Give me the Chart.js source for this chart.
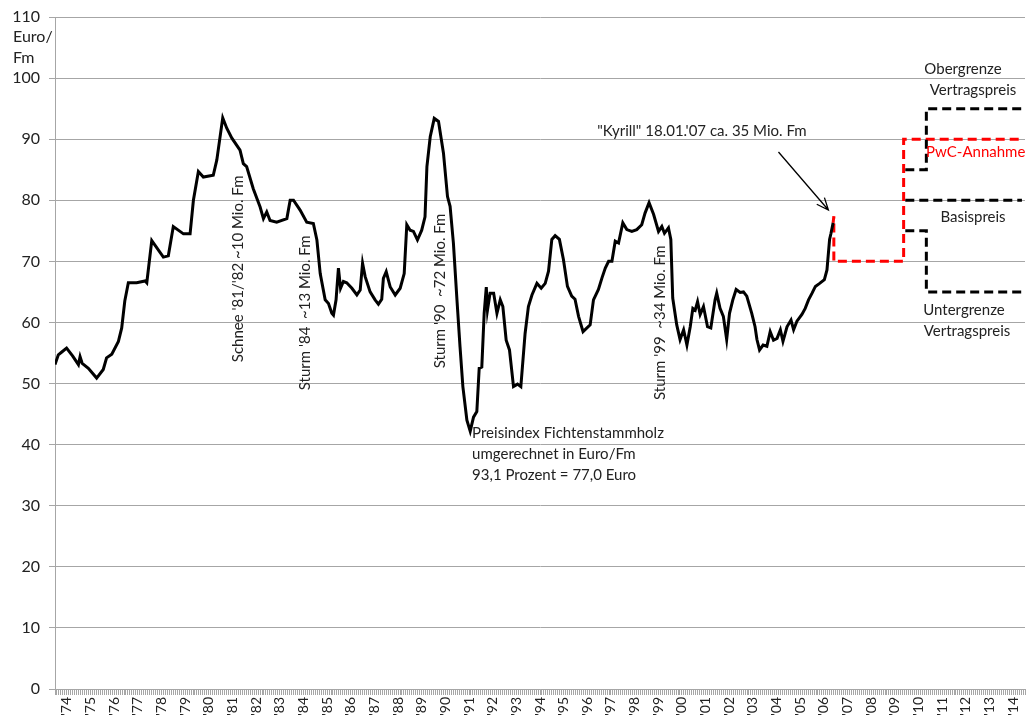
<!DOCTYPE html>
<html>
<head>
<meta charset="utf-8">
<script src="https://cdn.jsdelivr.net/npm/chart.js@4/dist/chart.umd.min.js"></script>
<style>
body { margin: 0; background: #fff; }
#wrap { width: 1032px; height: 722px; }
</style>
</head>
<body>
<div id="wrap"><canvas id="myChart"></canvas></div>
<script>
// year labels on the x axis (one per year, centred in the year)
var yearLabels = ["'74","'75","'76","'77","'78","'79","'80","'81","'82","'83","'84","'85","'86","'87",
  "'88","'89","'90","'91","'92","'93","'94","'95","'96","'97","'98","'99","'00","'01","'02","'03",
  "'04","'05","'06","'07","'08","'09","'10","'11","'12","'13","'14"];

// Preisindex Fichtenstammholz, Euro/Fm
var histYears = [1974.00,1974.14,1974.30,1974.49,1974.75,1974.99,1975.06,1975.15,1975.41,1975.76,
  1976.04,1976.18,1976.40,1976.68,1976.82,1976.95,1977.10,1977.45,1977.81,1977.88,1978.09,1978.58,
  1978.79,1979.00,1979.43,1979.71,1979.85,1980.06,1980.27,1980.69,1980.84,1981.09,1981.26,1981.47,
  1981.82,1981.96,1982.10,1982.38,1982.67,1982.81,1982.95,1983.09,1983.37,1983.80,1983.94,1984.08,
  1984.36,1984.64,1984.92,1985.07,1985.21,1985.42,1985.56,1985.70,1985.77,1985.88,1985.98,1986.07,
  1986.19,1986.33,1986.55,1986.76,1986.90,1987.00,1987.11,1987.32,1987.53,1987.67,1987.81,1987.88,
  1988.00,1988.17,1988.38,1988.59,1988.76,1988.87,1989.01,1989.15,1989.32,1989.50,1989.64,1989.72,
  1989.86,1990.03,1990.21,1990.42,1990.59,1990.70,1990.84,1990.99,1991.12,1991.24,1991.41,1991.55,
  1991.69,1991.83,1991.93,1992.04,1992.14,1992.23,1992.28,1992.39,1992.54,1992.68,1992.82,1992.93,
  1993.07,1993.21,1993.38,1993.55,1993.69,1993.87,1994.01,1994.16,1994.37,1994.55,1994.72,1994.86,
  1995.00,1995.14,1995.32,1995.49,1995.66,1995.84,1995.98,1996.13,1996.32,1996.62,1996.76,1996.97,
  1997.12,1997.26,1997.40,1997.54,1997.68,1997.82,1998.00,1998.17,1998.38,1998.59,1998.80,1998.94,
  1999.11,1999.30,1999.51,1999.65,1999.76,1999.93,2000.03,2000.11,2000.28,2000.42,2000.57,2000.71,
  2000.85,2000.96,2001.06,2001.16,2001.27,2001.41,2001.58,2001.72,2001.90,2001.97,2002.11,2002.25,
  2002.39,2002.51,2002.65,2002.79,2002.96,2003.10,2003.24,2003.45,2003.59,2003.67,2003.78,2003.93,
  2004.09,2004.23,2004.37,2004.52,2004.66,2004.77,2004.94,2005.11,2005.22,2005.36,2005.57,2005.71,
  2005.85,2006.00,2006.14,2006.32,2006.52,2006.63,2006.74,2006.80,2006.89];
var histValues = [53.1,54.7,55.2,55.8,54.5,53.1,54.4,53.3,52.5,50.9,
  52.3,54.2,54.8,56.9,59.1,63.5,66.5,66.5,66.8,66.5,73.4,70.7,
  70.9,75.7,74.5,74.5,80.0,84.7,83.8,84.1,86.6,93.5,91.8,90.2,
  88.2,86.0,85.5,81.9,78.9,77.0,78.1,76.7,76.4,77.0,80.0,80.0,
  78.4,76.4,76.2,73.5,68.0,63.7,63.1,61.5,61.2,63.7,68.9,65.6,
  66.7,66.5,65.6,64.5,65.3,69.7,67.5,65.0,63.7,63.0,63.8,67.2,
  68.3,65.8,64.5,65.6,68.0,76.0,75.1,74.9,73.5,75.1,77.3,85.5,
  90.4,93.4,92.9,87.7,80.6,79.0,73.0,63.7,56.0,49.5,44.0,42.2,
  44.5,45.4,52.5,52.7,61.5,65.8,62.0,64.8,64.8,61.5,63.7,62.6,
  57.1,55.5,49.5,49.9,49.5,58.2,62.6,64.5,66.4,65.6,66.4,68.4,
  73.6,74.2,73.6,70.3,65.9,64.3,63.8,61.0,58.5,59.6,63.7,65.4,
  67.3,68.9,70.0,70.0,73.3,73.0,76.3,75.2,74.9,75.2,76.0,77.9,
  79.6,77.7,74.9,75.7,74.6,75.5,73.6,64.0,59.6,57.2,58.8,56.3,
  59.3,62.3,62.0,63.4,61.3,62.6,59.3,59.1,63.7,64.8,62.3,61.0,
  57.2,61.5,63.7,65.4,64.9,65.0,64.3,61.5,59.3,57.2,55.5,56.3,
  56.1,58.5,57.1,57.4,58.8,56.9,59.3,60.4,58.8,60.2,61.3,62.3,
  63.7,64.8,65.9,66.4,67.0,68.6,73.6,74.6,76.3];

// PwC-Annahme (red dashed)
var pwcYears  = [2006.89, 2006.92, 2006.92, 2009.87, 2009.87, 2014.87];
var pwcValues = [76.3, 77.4, 70, 70, 90, 90];

// Vertragspreis: Obergrenze, Basispreis, Untergrenze (black dashed)
var upperYears  = [2009.94, 2010.83, 2010.83, 2014.87];
var upperValues = [85, 85, 95, 95];
var baseYears   = [2009.94, 2014.87];
var baseValues  = [80, 80];
var lowerYears  = [2009.94, 2010.83, 2010.83, 2014.87];
var lowerValues = [75, 75, 65, 65];

function toPoints(xs, ys) {
  return xs.map((x, i) => ({ x: x, y: ys[i] }));
}

const FONT = "Lato";
const TEXT = "#222";

// texts drawn on the chart, anchored in data units
const annotations = {
  id: "annotations",
  afterDatasetsDraw(chart) {
    const ctx = chart.ctx;
    const xs = chart.scales.x, ys = chart.scales.y;
    const px = v => xs.getPixelForValue(v);
    const py = v => ys.getPixelForValue(v);
    ctx.save();
    ctx.fillStyle = TEXT;
    ctx.font = "15px " + FONT;
    ctx.textBaseline = "middle";

    // rotated storm labels
    [["Schnee '81/'82 ~10 Mio. Fm", 1981.76, 53.5],
     ["Sturm '84  ~13 Mio. Fm", 1984.57, 48.9],
     ["Sturm '90  ~72 Mio. Fm", 1990.28, 52.5],
     ["Sturm '99  ~34 Mio. Fm", 1999.58, 47.3]].forEach(a => {
      ctx.save();
      ctx.translate(px(a[1]), py(a[2]));
      ctx.rotate(-Math.PI / 2);
      ctx.textAlign = "left";
      ctx.fillText(a[0], 0, 0);
      ctx.restore();
    });

    ctx.textAlign = "left";
    ctx.fillText("Preisindex Fichtenstammholz", px(1991.63), py(41.9));
    ctx.fillText("umgerechnet in Euro/Fm", px(1991.63), py(38.5));
    ctx.fillText("93,1 Prozent = 77,0 Euro", px(1991.63), py(35.0));
    ctx.fillText("\"Kyrill\" 18.01.'07 ca. 35 Mio. Fm", px(1996.92), py(91.3));

    ctx.textAlign = "center";
    ctx.fillText("Obergrenze", 963, py(101.5));
    ctx.fillText("Vertragspreis", 973, py(98.0));
    ctx.fillText("Basispreis", 973, py(77.2));
    ctx.fillText("Untergrenze", 964, py(62.0));
    ctx.fillText("Vertragspreis", 967, py(58.6));
    ctx.textAlign = "left";
    ctx.fillStyle = "#ff0000";
    ctx.fillText("PwC-Annahme", 926, py(87.9));

    // arrow to the Kyrill point
    const x1 = px(2004.58), y1 = py(87.9), x2 = px(2006.69), y2 = py(78.4);
    ctx.strokeStyle = "#000";
    ctx.lineWidth = 1.3;
    ctx.beginPath();
    ctx.moveTo(x1, y1);
    ctx.lineTo(x2, y2);
    const ang = Math.atan2(y2 - y1, x2 - x1);
    ctx.moveTo(x2 - 13 * Math.cos(ang - 0.4), y2 - 13 * Math.sin(ang - 0.4));
    ctx.lineTo(x2, y2);
    ctx.lineTo(x2 - 13 * Math.cos(ang + 0.4), y2 - 13 * Math.sin(ang + 0.4));
    ctx.stroke();

    // axis title
    ctx.fillStyle = TEXT;
    ctx.font = "16px " + FONT;
    ctx.textAlign = "left";
    ctx.fillText("Euro/", 13, 37);
    ctx.fillText("Fm", 13, 58);
    ctx.restore();
  }
};

const dashed = (xs, ys, color) => ({
  data: toPoints(xs, ys),
  borderColor: color,
  borderWidth: 3,
  borderDash: [9, 5],
  pointRadius: 0,
  tension: 0,
  fill: false
});

new Chart("myChart", {
  type: "line",
  data: {
    datasets: [
      {
        data: toPoints(histYears, histValues),
        borderColor: "#000",
        borderWidth: 3,
        pointRadius: 0,
        tension: 0,
        fill: false
      },
      dashed(upperYears, upperValues, "#000"),
      dashed(baseYears, baseValues, "#000"),
      dashed(lowerYears, lowerValues, "#000"),
      dashed(pwcYears, pwcValues, "#ff0000")
    ]
  },
  options: {
    responsive: true,
    maintainAspectRatio: false,
    animation: false,
    layout: { padding: { top: 17, right: 7, left: 0, bottom: 0 } },
    plugins: { legend: { display: false }, tooltip: { enabled: false } },
    scales: {
      x: {
        type: "linear",
        min: 1974,
        max: 2015,
        afterBuildTicks: axis => {
          const t = [];
          for (let i = 0; i <= 492; i++) t.push({ value: 1974 + i / 12 });
          axis.ticks = t;
        },
        afterFit: axis => {
          axis.height = 33;
          axis.paddingLeft = 0;
          axis.paddingRight = 0;
        },
        grid: { drawOnChartArea: false, color: "#a6a6a6", tickLength: 6 },
        border: { color: "#a6a6a6" },
        ticks: {
          autoSkip: false,
          maxRotation: 90,
          minRotation: 90,
          padding: 2,
          color: TEXT,
          font: { family: FONT, size: 14 },
          callback: (v, i) => (i % 12 === 6 ? yearLabels[(i - 6) / 12] : "")
        }
      },
      y: {
        min: 0,
        max: 110,
        afterFit: axis => {
          axis.width = 55;
          axis.paddingTop = 0;
          axis.paddingBottom = 0;
        },
        grid: { color: "#a6a6a6", tickLength: 6 },
        border: { color: "#a6a6a6" },
        ticks: {
          stepSize: 10,
          padding: 9,
          color: TEXT,
          font: { family: FONT, size: 16 }
        }
      }
    }
  },
  plugins: [annotations]
});
</script>
</body>
</html>
